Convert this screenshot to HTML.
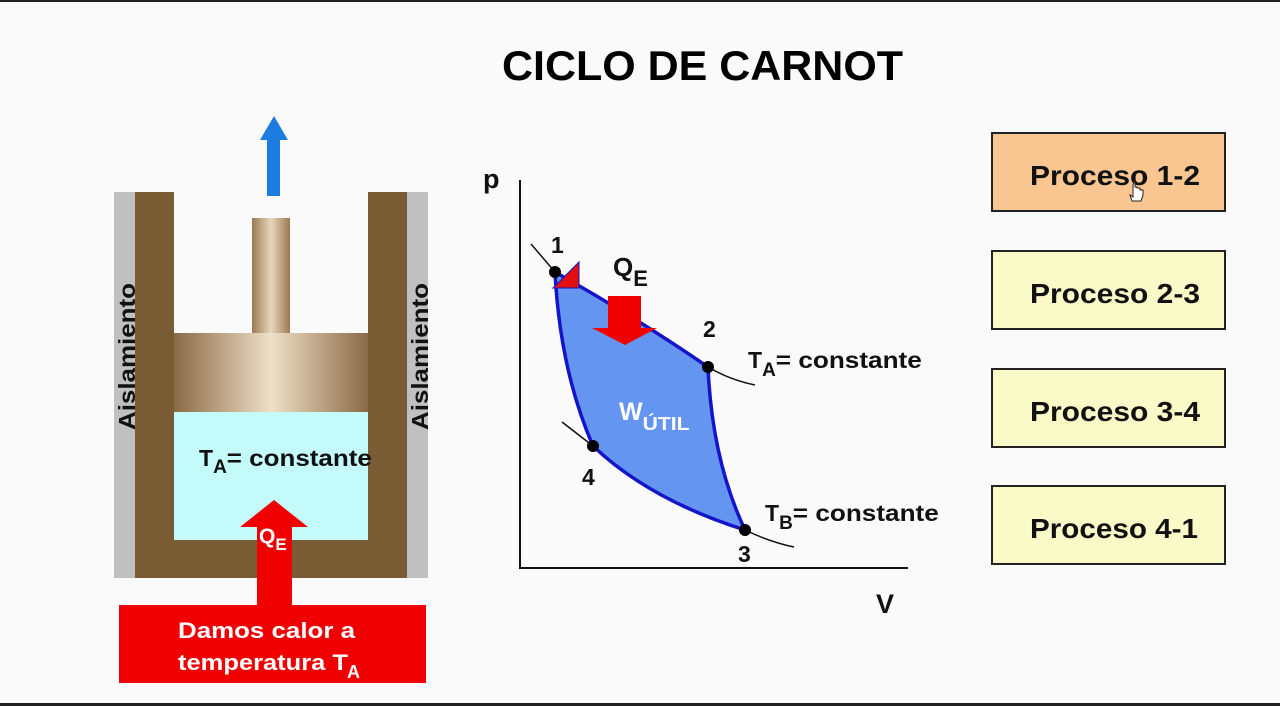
<!DOCTYPE html>
<html><head><meta charset="utf-8"><style>
html,body{margin:0;padding:0;background:#fafafa;width:1280px;height:706px;overflow:hidden}
svg{display:block}
text{font-family:"Liberation Sans",Arial,sans-serif;font-weight:bold}
</style></head><body>
<svg width="1280" height="706" viewBox="0 0 1280 706" xmlns="http://www.w3.org/2000/svg">
<defs>
<linearGradient id="pg" x1="0" x2="1" y1="0" y2="0">
<stop offset="0" stop-color="#8a6a45"/><stop offset="0.5" stop-color="#efe0c8"/><stop offset="1" stop-color="#8a6a45"/>
</linearGradient>
<linearGradient id="rg" x1="0" x2="1" y1="0" y2="0">
<stop offset="0" stop-color="#9a7a52"/><stop offset="0.5" stop-color="#e8d6bc"/><stop offset="1" stop-color="#9a7a52"/>
</linearGradient>
</defs>
<rect x="0" y="0" width="1280" height="2" fill="#222"/>
<rect x="0" y="703" width="1280" height="3" fill="#222"/>
<text x="502" y="80" font-size="42" textLength="401" lengthAdjust="spacingAndGlyphs" fill="#000">CICLO DE CARNOT</text>

<!-- cylinder -->
<rect x="114" y="192" width="21" height="386" fill="#c0c0c0"/>
<rect x="407" y="192" width="21" height="386" fill="#c0c0c0"/>
<rect x="135" y="192" width="39" height="386" fill="#7a5c34"/>
<rect x="368" y="192" width="39" height="386" fill="#7a5c34"/>
<rect x="135" y="540" width="272" height="38" fill="#7a5c34"/>
<rect x="174" y="412" width="194" height="128" fill="#c4fafa"/>
<rect x="174" y="333" width="194" height="79" fill="url(#pg)"/>
<rect x="252" y="218" width="38" height="115" fill="url(#rg)"/>
<text transform="translate(135,430) rotate(-90)" font-size="23" textLength="147" lengthAdjust="spacingAndGlyphs" fill="#111">Aislamiento</text>
<text transform="translate(428,430) rotate(-90)" font-size="23" textLength="147" lengthAdjust="spacingAndGlyphs" fill="#111">Aislamiento</text>
<polygon points="267,196 280,196 280,140 288,140 274,116 260,140 267,140" fill="#1e7be0"/>
<text x="199" y="466" font-size="23" fill="#111">T<tspan font-size="19" dy="7">A</tspan><tspan dy="-7" textLength="145" lengthAdjust="spacingAndGlyphs">= constante</tspan></text>
<rect x="119" y="605" width="307" height="78" fill="#f00000"/>
<polygon points="257,605 292,605 292,527 308,527 274,500 240,527 257,527" fill="#f00000"/>
<text x="259" y="543" font-size="21" fill="#fff">Q<tspan font-size="17" dy="7">E</tspan></text>
<text x="178" y="638" font-size="22" textLength="177" lengthAdjust="spacingAndGlyphs" fill="#fff">Damos calor a</text>
<text x="178" y="670" font-size="22" textLength="170" lengthAdjust="spacingAndGlyphs" fill="#fff">temperatura  T</text>
<text x="347" y="678" font-size="18" fill="#fff">A</text>

<!-- diagram -->
<text x="483" y="188" font-size="27" fill="#111">p</text>
<text x="876" y="613" font-size="27" fill="#111">V</text>
<polyline points="520,180 520,568 908,568" fill="none" stroke="#111" stroke-width="2"/>
<path d="M555,272 Q640,320 708,367 Q712,460 745,530 Q650,500 593,446 Q560,370 555,272 Z" fill="#6495f0" stroke="#1414c8" stroke-width="3.5"/>
<path d="M531,244 L555,272" stroke="#111" stroke-width="1.5" fill="none"/>
<path d="M708,367 Q730,380 755,385" stroke="#111" stroke-width="1.5" fill="none"/>
<path d="M562,422 L593,446" stroke="#111" stroke-width="1.5" fill="none"/>
<path d="M745,530 Q770,542 794,547" stroke="#111" stroke-width="1.5" fill="none"/>
<polygon points="553,288 579,262 579,288" fill="#e01010" stroke="#1414c8" stroke-width="1"/>
<circle cx="555" cy="272" r="6" fill="#000"/>
<circle cx="708" cy="367" r="6" fill="#000"/>
<circle cx="745" cy="530" r="6" fill="#000"/>
<circle cx="593" cy="446" r="6" fill="#000"/>
<polygon points="608,296 641,296 641,328 657,328 625,345 592,328 608,328" fill="#f00000"/>
<text x="551" y="253" font-size="23" fill="#111">1</text>
<text x="703" y="337" font-size="23" fill="#111">2</text>
<text x="738" y="562" font-size="23" fill="#111">3</text>
<text x="582" y="485" font-size="23" fill="#111">4</text>
<text x="613" y="276" font-size="26" fill="#111">Q<tspan font-size="22" dy="10">E</tspan></text>
<text x="619" y="420" font-size="25" fill="#fff">W<tspan font-size="18" dy="10" textLength="47" lengthAdjust="spacingAndGlyphs">ÚTIL</tspan></text>
<text x="748" y="368" font-size="23" fill="#111">T<tspan font-size="19" dy="8">A</tspan><tspan dy="-8" textLength="146" lengthAdjust="spacingAndGlyphs">= constante</tspan></text>
<text x="765" y="521" font-size="23" fill="#111">T<tspan font-size="19" dy="8">B</tspan><tspan dy="-8" textLength="146" lengthAdjust="spacingAndGlyphs">= constante</tspan></text>

<!-- buttons -->
<rect x="992" y="133" width="233" height="78" fill="#f9c590" stroke="#222" stroke-width="2"/>
<rect x="992" y="251" width="233" height="78" fill="#fafac8" stroke="#222" stroke-width="2"/>
<rect x="992" y="369" width="233" height="78" fill="#fafac8" stroke="#222" stroke-width="2"/>
<rect x="992" y="486" width="233" height="78" fill="#fafac8" stroke="#222" stroke-width="2"/>
<text x="1030" y="185" font-size="28" textLength="170" lengthAdjust="spacingAndGlyphs" fill="#111">Proceso 1-2</text>
<text x="1030" y="303" font-size="28" textLength="170" lengthAdjust="spacingAndGlyphs" fill="#111">Proceso 2-3</text>
<text x="1030" y="421" font-size="28" textLength="170" lengthAdjust="spacingAndGlyphs" fill="#111">Proceso 3-4</text>
<text x="1030" y="538" font-size="28" textLength="168" lengthAdjust="spacingAndGlyphs" fill="#111">Proceso 4-1</text>
<path d="M1133,185 v12 l-3,-2 l2,6 h9 l2,-6 v-5 h-3 v-2 h-3 v-1 h-2 v-7 z" fill="#fff" stroke="#222" stroke-width="1"/>
</svg>
</body></html>
